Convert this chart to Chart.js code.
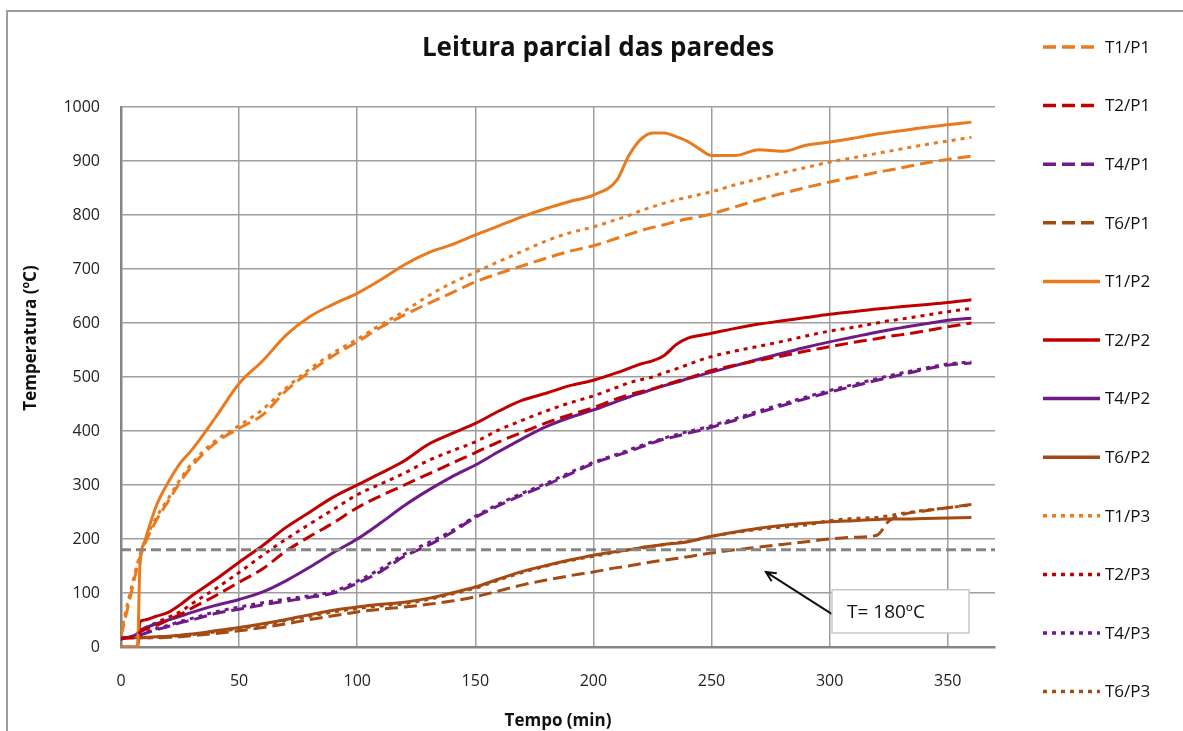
<!DOCTYPE html>
<html>
<head>
<meta charset="utf-8">
<script src="https://cdn.jsdelivr.net/npm/chart.js@4.4.1/dist/chart.umd.min.js"></script>
<style>
  html, body { margin: 0; padding: 0; background: #fff; overflow: hidden; }
  #wrap { width: 1183px; height: 731px; position: relative; }
</style>
</head>
<body>
<div id="wrap"><canvas id="chart"></canvas></div>
<script>
// tempo (min) - grelha comum de leitura
const tempo = [0,3,7,8,10,15,20,25,30, 40,50,60,70,80,90,100,110,120,130,140,150,160,170,180,190,200, 210,215,220,225,230,235,240,245,250, 260,270,280,290,300,310,320, 325, 330,340,350,360];

// P1 (tracejado)
const t1p1 = [20,75,150,165,190,235,270,305,335, 378,405,430,475,510,540,565,592,615,636,656,676,692,706,720,733,743, 757,764,771,777,782,788,793,797,802, 815,828,840,851,861,870,879, 883, 887,896,903,909];
const t2p1 = [15,17,22,28,32,40,50,60,72, 95,120,145,178,205,230,258,280,300,320,340,360,380,398,415,430,443, 460,467,473,478,485,492,498,505,512, 522,531,539,548,556,564,571, 575, 578,585,593,600];
const t4p1 = [17,17,20,22,25,32,38,45,50, 62,70,78,85,92,100,118,140,168,188,212,240,262,282,300,320,340, 355,362,370,378,385,390,396,401,407, 420,434,447,460,472,483,494, 499, 504,514,522,526];
const t6p1 = [17,17,17,17,17,17,18,19,21, 25,30,36,43,51,58,65,70,74,79,85,93,104,115,124,132,139, 147,150,154,158,161,164,167,171,174, 180,185,190,195,200,203,207, 233, 244,252,258,264];

// P2 (continuo)
const t1p2 = [0,0,0,150,195,262,305,340,365, 425,488,530,578,612,635,655,680,708,730,745,763,780,797,812,825,837, 865,910,940,952,952,945,936,922,910, 910,921,918,929,935,942,950, 953, 956,962,967,972];
const t2p2 = [0,0,0,46,50,57,64,78,95, 125,157,188,222,250,278,300,322,345,375,395,414,437,457,470,484,494, 508,516,524,530,540,560,572,577,581, 590,598,604,610,616,621,626, 628, 630,634,638,643];
const t4p2 = [17,18,25,31,35,43,50,57,64, 77,88,102,123,148,175,200,230,262,290,315,337,362,386,408,425,439, 455,463,470,477,484,490,497,503,509, 521,533,544,555,565,574,583, 587, 591,598,605,609];
const t6p2 = [17,17,17,18,18,19,20,22,24, 30,36,43,51,60,68,74,79,83,90,100,111,126,140,151,161,170, 177,180,184,187,190,192,195,200,205, 213,220,225,229,232,234,236, 237, 237,238,239,240];

// P3 (pontilhado)
const t1p3 = [25,85,155,170,195,240,275,310,340, 382,410,440,480,515,545,570,597,622,650,674,694,714,733,752,767,778, 792,799,808,815,822,828,833,838,843, 856,867,878,888,898,906,914, 918, 922,930,937,944];
const t2p3 = [15,17,22,30,35,45,55,65,80, 108,138,170,200,228,255,282,302,322,345,363,380,402,420,437,452,465, 481,489,495,500,508,515,523,531,538, 548,557,566,576,585,592,600, 604, 607,614,621,627];
const t4p3 = [17,17,20,23,26,34,40,47,53, 65,74,82,89,95,103,122,145,172,193,215,242,265,285,303,323,342, 357,365,373,380,387,393,399,404,410, 423,437,450,463,475,486,497, 502, 507,516,524,528];
const t6p3 = [17,17,17,17,17,18,19,21,23, 28,34,41,49,57,65,71,76,80,88,98,109,124,138,150,160,168, 176,180,183,186,190,193,196,200,205, 212,218,222,226,234,238,240, 243, 247,253,258,263];

const limiteT = 180;

const nomes = ['T1/P1','T2/P1','T4/P1','T6/P1','T1/P2','T2/P2','T4/P2','T6/P2','T1/P3','T2/P3','T4/P3','T6/P3'];
const series = [t1p1,t2p1,t4p1,t6p1,t1p2,t2p2,t4p2,t6p2,t1p3,t2p3,t4p3,t6p3];

const cores = ['#EA7A1E', '#C00000', '#6E1A87', '#A44A13'];
const tracos = [[13, 6], [], [4, 5]];   // P1 tracejado, P2 continuo, P3 pontilhado

const FONT = '"Open Sans", Lato, sans-serif';

const datasets = series.map((vals, i) => ({
    label: nomes[i],
    data: tempo.map((t, k) => ({ x: t, y: vals[k] })),
    borderColor: cores[i % 4],
    borderDash: tracos[Math.floor(i / 4)],
    borderWidth: 3,
    pointRadius: 0,
    cubicInterpolationMode: 'monotone',
    fill: false
}));

// linha de referencia T = 180 ºC
datasets.push({
    label: 'T=180',
    data: [{ x: 0, y: limiteT }, { x: 370, y: limiteT }],
    borderColor: '#858585',
    borderDash: [10, 5],
    borderWidth: 3,
    pointRadius: 0,
    order: -1
});

// moldura + fundo + titulos
const moldura = {
    id: 'moldura',
    beforeDraw(chart) {
        const ctx = chart.ctx;
        ctx.save();
        ctx.fillStyle = '#fff';
        ctx.fillRect(0, 0, chart.width, chart.height);
        ctx.strokeStyle = '#9c9c9c';
        ctx.lineWidth = 2;
        ctx.beginPath();
        ctx.moveTo(7, chart.height);
        ctx.lineTo(7, 11);
        ctx.lineTo(chart.width, 11);
        ctx.stroke();
        ctx.restore();
    },
    afterDraw(chart) {
        const ctx = chart.ctx;
        ctx.save();
        ctx.fillStyle = '#111';
        ctx.textAlign = 'center';
        ctx.textBaseline = 'middle';
        ctx.font = 'bold 26px ' + FONT;
        ctx.fillText('Leitura parcial das paredes', 598, 49);
        ctx.translate(31, 338);
        ctx.rotate(-Math.PI / 2);
        ctx.font = 'bold 17px ' + FONT;
        ctx.fillText('Temperatura (ºC)', 0, 0);
        ctx.restore();
    }
};

// caixa "T= 180ºC" com seta
const anotacao = {
    id: 'anotacao',
    afterDatasetsDraw(chart) {
        const { ctx, scales: { x, y } } = chart;
        const x0 = x.getPixelForValue(301), x1 = x.getPixelForValue(359);
        const y0 = y.getPixelForValue(106), y1 = y.getPixelForValue(26);
        ctx.save();
        // seta
        const ax = x.getPixelForValue(301), ay = y.getPixelForValue(61);
        const hx = x.getPixelForValue(273), hy = y.getPixelForValue(139);
        ctx.strokeStyle = '#111';
        ctx.lineWidth = 2;
        ctx.beginPath();
        ctx.moveTo(ax, ay);
        ctx.lineTo(hx, hy);
        const ang = Math.atan2(hy - ay, hx - ax);
        const L = 11;
        ctx.moveTo(hx - L * Math.cos(ang - 0.45), hy - L * Math.sin(ang - 0.45));
        ctx.lineTo(hx, hy);
        ctx.lineTo(hx - L * Math.cos(ang + 0.45), hy - L * Math.sin(ang + 0.45));
        ctx.stroke();
        // caixa
        ctx.fillStyle = '#fff';
        ctx.fillRect(x0, y0, x1 - x0, y1 - y0);
        ctx.strokeStyle = '#c8c8c8';
        ctx.lineWidth = 1.5;
        ctx.strokeRect(x0, y0, x1 - x0, y1 - y0);
        ctx.fillStyle = '#111';
        ctx.font = '19px ' + FONT;
        ctx.textBaseline = 'middle';
        ctx.fillText('T= 180ºC', x0 + 15, (y0 + y1) / 2 + 1);
        ctx.restore();
    }
};

// legenda propria, a direita
const legenda = {
    id: 'legenda',
    afterDraw(chart) {
        const ctx = chart.ctx;
        ctx.save();
        ctx.font = '17px ' + FONT;
        ctx.textBaseline = 'middle';
        chart.data.datasets.slice(0, 12).forEach((ds, i) => {
            const yy = 47 + i * 58.6;
            ctx.strokeStyle = ds.borderColor;
            ctx.lineWidth = 3.5;
            ctx.setLineDash(ds.borderDash);
            ctx.beginPath();
            ctx.moveTo(1043, yy);
            ctx.lineTo(1100, yy);
            ctx.stroke();
            ctx.setLineDash([]);
            ctx.fillStyle = '#111';
            ctx.fillText(ds.label, 1105, yy + 1);
        });
        ctx.restore();
    }
};

new Chart(document.getElementById('chart'), {
    type: 'line',
    data: { datasets },
    options: {
        responsive: true,
        maintainAspectRatio: false,
        animation: false,
        layout: { padding: { left: 0, right: 188, top: 107, bottom: 0 } },
        plugins: {
            legend: { display: false },
            tooltip: { enabled: false },
            title: { display: false }
        },
        scales: {
            x: {
                type: 'linear',
                min: 0,
                max: 370,
                afterFit: (s) => { s.height = 84; },
                ticks: {
                    stepSize: 50,
                    includeBounds: false,
                    padding: 25,
                    color: '#222',
                    maxRotation: 0,
                    font: { family: FONT, size: 16 }
                },
                grid: { color: '#9e9e9e', lineWidth: 1.5, drawTicks: false },
                border: { color: '#858585', width: 2.5 },
                title: {
                    display: true,
                    text: 'Tempo (min)',
                    color: '#111',
                    padding: 0,
                    font: { family: FONT, size: 17, weight: 'bold' }
                }
            },
            y: {
                min: 0,
                max: 1000,
                afterFit: (s) => { s.width = 121; },
                ticks: {
                    stepSize: 100,
                    padding: 21,
                    color: '#222',
                    font: { family: FONT, size: 16 },
                    callback: (v) => String(v)
                },
                grid: { color: '#9e9e9e', lineWidth: 1.5, drawTicks: false },
                border: { color: '#858585', width: 2.5 }
            }
        }
    },
    plugins: [moldura, anotacao, legenda]
});
</script>
</body>
</html>
